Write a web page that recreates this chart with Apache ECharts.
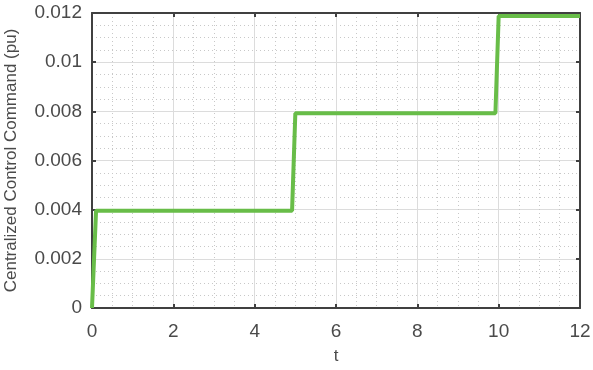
<!DOCTYPE html>
<html>
<head>
<meta charset="utf-8">
<script src="https://cdn.jsdelivr.net/npm/echarts@6/dist/echarts.min.js"></script>
<style>
  html, body { margin: 0; padding: 0; background: #fff; }
  #chart { width: 593px; height: 370px; }
</style>
</head>
<body>
<div id="chart"></div>
<script>
// Step command: time (s) and command level (pu)
var timeValues = [0, 0.1, 4.92, 5.0, 9.92, 10.0, 12];
var commandValues = [0, 0.00396, 0.00396, 0.00792, 0.00792, 0.01188, 0.01188];

var xTicks = [0, 2, 4, 6, 8, 10, 12];
var yTicks = [0, 0.002, 0.004, 0.006, 0.008, 0.01, 0.012];

var axisColor = '#404040';
var textColor = '#4a4a4a';
var fontFamily = 'Liberation Sans, Arial, sans-serif';

var points = timeValues.map(function (t, i) { return [t, commandValues[i]]; });

var chart = echarts.init(document.getElementById('chart'), null, { renderer: 'canvas' });

function boxAxis(base) {
  return Object.assign({
    type: 'value',
    axisLine: { show: true, onZero: false, lineStyle: { color: axisColor, width: 2 } },
    axisTick: { show: true, inside: true, length: 4, lineStyle: { color: axisColor, width: 2 } },
    splitLine: { show: false },
    axisLabel: { show: false }
  }, base);
}

chart.setOption({
  animation: false,
  grid: { left: 92, right: 13, top: 13, bottom: 62, containLabel: false, outerBoundsMode: 'none' },
  xAxis: [
    {
      type: 'value',
      position: 'bottom',
      min: xTicks[0],
      max: xTicks[xTicks.length - 1],
      interval: 2,
      name: 't',
      nameLocation: 'middle',
      nameGap: 40,
      nameTextStyle: { color: textColor, fontSize: 17, fontFamily: fontFamily },
      axisLine: { show: true, onZero: false, lineStyle: { color: axisColor, width: 2 } },
      axisTick: { show: true, inside: true, length: 4, lineStyle: { color: axisColor, width: 2 } },
      axisLabel: { color: textColor, fontSize: 19, fontFamily: fontFamily, margin: 14 },
      splitLine: { show: true, lineStyle: { color: '#dcdcdc', width: 1 } },
      minorTick: { show: false, splitNumber: 4 },
      minorSplitLine: { show: true, lineStyle: { color: '#c8c8c8', width: 1, type: [1, 3] } }
    },
    boxAxis({ position: 'top', min: 0, max: 12, interval: 2 })
  ],
  yAxis: [
    {
      type: 'value',
      position: 'left',
      min: yTicks[0],
      max: yTicks[yTicks.length - 1],
      interval: 0.002,
      name: 'Centralized Control Command (pu)',
      nameLocation: 'middle',
      nameGap: 72,
      nameTextStyle: { color: textColor, fontSize: 17, fontFamily: fontFamily },
      axisLine: { show: true, onZero: false, lineStyle: { color: axisColor, width: 2 } },
      axisTick: { show: true, inside: true, length: 4, lineStyle: { color: axisColor, width: 2 } },
      axisLabel: {
        color: textColor, fontSize: 19, fontFamily: fontFamily, margin: 10,
        formatter: function (v) { return String(parseFloat(v.toFixed(4))); }
      },
      splitLine: { show: true, lineStyle: { color: '#dcdcdc', width: 1 } },
      minorTick: { show: false, splitNumber: 4 },
      minorSplitLine: { show: true, lineStyle: { color: '#c8c8c8', width: 1, type: [1, 3] } }
    },
    boxAxis({ position: 'right', min: 0, max: 0.012, interval: 0.002 })
  ],
  series: [{
    type: 'line',
    data: points,
    xAxisIndex: 0,
    yAxisIndex: 0,
    showSymbol: false,
    lineStyle: { color: '#68bd48', width: 4 },
    clip: false
  }]
});
</script>
</body>
</html>
